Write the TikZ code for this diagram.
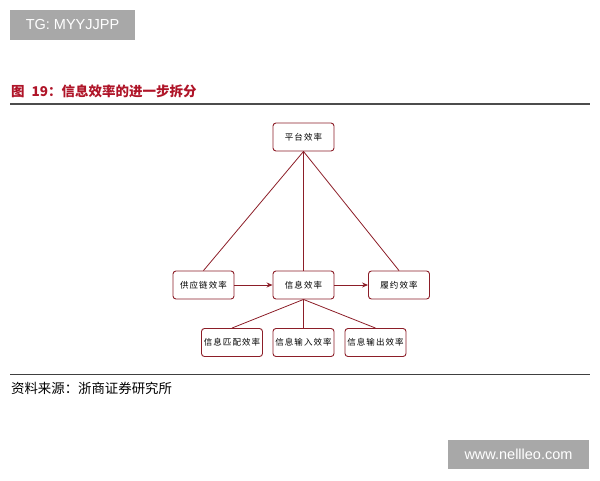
\documentclass[tikz,border=0pt]{standalone}
\usepackage{fontspec}
\setmainfont{Liberation Sans}
\newfontfamily\cjk{Noto Sans CJK SC}
\newfontfamily\cjkbox[LetterSpace=12]{Noto Sans CJK SC}
\usepackage{xcolor}
\usetikzlibrary{calc}
\usetikzlibrary{positioning}
\usetikzlibrary{arrows.meta}

\definecolor{boxred}{RGB}{140,30,40}
\definecolor{titlered}{RGB}{175,20,40}
\definecolor{tggray}{RGB}{168,168,168}

\tikzset{
  effbox/.style={draw=boxred,line width=0.9pt,rounded corners=3pt,fill=white,
    minimum width=61pt,minimum height=28pt,inner sep=0pt,
    font=\cjkbox\fontsize{8.5}{10}\selectfont},
  link/.style={boxred,line width=0.8pt},
  tag/.style={fill=tggray,text=white,inner sep=0pt,font=\fontsize{14.5}{16}\selectfont}
}

\begin{document}
\begin{tikzpicture}[x=1pt,y=-1pt]
\useasboundingbox (0,0) rectangle (600,480);

\node[tag,minimum width=125pt,minimum height=30pt] (tg) at (72.5,25) {TG: MYYJJPP};
\node[tag,minimum width=141pt,minimum height=29pt] (web) at (518.5,454.5) {www.nellleo.com};

\node[anchor=west,text=titlered,inner sep=0pt,font=\cjk\bfseries\fontsize{13.5}{15}\selectfont] (title) at (11,91) {图\hspace{7pt}19：信息效率的进一步拆分};
\draw[black!70,line width=1.5pt] (10,104) -- (590,104);

\node[effbox] (plat) at (303.5,137) {平台效率};
\node[effbox] (supply) at (203.5,285) {供应链效率};
\node[effbox] (info) at (303.5,285) {信息效率};
\node[effbox] (fulfil) at (399,285) {履约效率};
\node[effbox] (match) at (232,342.5) {信息匹配效率};
\node[effbox] (input) at (303.5,342.5) {信息输入效率};
\node[effbox] (output) at (375.5,342.5) {信息输出效率};

\foreach \n in {supply,info,fulfil}
{
	\draw[link] (plat.south) -- (\n.north);
}
\foreach \n in {match,input,output}
{
	\draw[link] (info.south) -- (\n.north);
}
\draw[link,-{Stealth[length=6pt,width=5pt]}] (supply) -- (info);
\draw[link,-{Stealth[length=6pt,width=5pt]}] (info) -- (fulfil);

\draw[black!75,line width=1pt] (10,374) -- (590,374);
\node[anchor=west,inner sep=0pt,font=\cjk\fontsize{13.4}{15}\selectfont] (src) at (11,388) {资料来源：浙商证券研究所};
\end{tikzpicture}
\end{document}
